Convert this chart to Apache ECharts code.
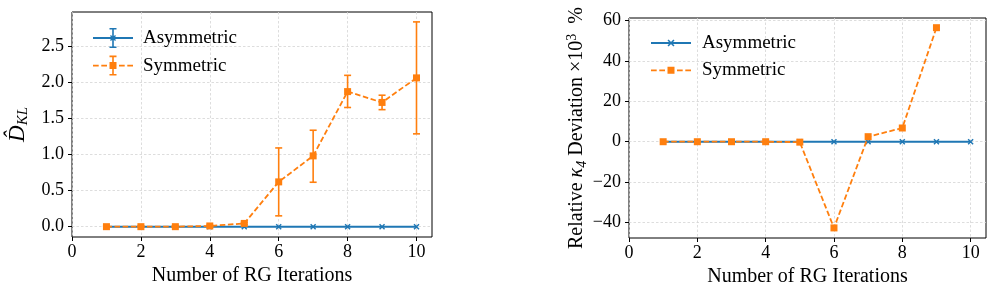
<!DOCTYPE html>
<html><head><meta charset="utf-8">
<script src="https://cdn.jsdelivr.net/npm/echarts@6/dist/echarts.min.js"></script>
<style>html,body{margin:0;padding:0;background:#fff}#c{width:997px;height:298px}</style>
</head><body><div id="c"></div>
<script>
// ---------- data ----------
const iterations = [1, 2, 3, 4, 5, 6, 7, 8, 9, 10];
const klAsymmetric = [0, 0, 0, 0, 0, 0, 0, 0, 0, 0];
const klSymmetric = [0.0, 0.0, 0.0, 0.01, 0.045, 0.62, 0.98, 1.87, 1.72, 2.06];
const klSymmetricLow = [0.0, 0.0, 0.0, 0.0, 0.03, 0.15, 0.615, 1.65, 1.62, 1.285];
const klSymmetricHigh = [0.01, 0.01, 0.01, 0.02, 0.06, 1.09, 1.335, 2.095, 1.82, 2.835];
const devAsymmetric = [0, 0, 0, 0, 0, 0, 0, 0, 0, 0];
const devSymmetric = [0, 0, 0, 0, -0.2, -42.7, 2.5, 6.8, 56.5, null];
const xTicks = [0, 2, 4, 6, 8, 10];
const klTicks = [0, 0.5, 1, 1.5, 2, 2.5];
const devTicks = [-40, -20, 0, 20, 40, 60];
const seriesNames = ['Asymmetric', 'Symmetric'];

// ---------- styling ----------
const SERIF = 'Liberation Serif';
const BLUE = '#1f77b4', ORANGE = '#ff7f0e';
const DASH = [5.5, 2.6];

function rect(x, y, w, h) { return `M${x} ${y} h${w} v${h} h${-w} Z `; }
function xMarkPath(x0, y0, s, a) {
  const p = (u, v) => (x0 + u * s / 10).toFixed(2) + ' ' + (y0 + v * s / 10).toFixed(2);
  return `M${p(a,0)} L${p(10,10-a)} L${p(10-a,10)} L${p(0,a)} Z M${p(10-a,0)} L${p(10,a)} L${p(a,10)} L${p(0,10-a)} Z `;
}
function dashes(y, h) {
  return rect(0, y, 5.7, h) + rect(8.3, y, 5.7, h) + rect(26, y, 5.7, h) + rect(34.3, y, 5.7, h);
}
const errIcon = rect(19.2, 0, 1.6, 20) + rect(16.5, 0, 7, 1.6) + rect(16.5, 18.4, 7, 1.6);
const leftAsymIcon = 'path://' + rect(0, 9.1, 40, 1.8) + errIcon + xMarkPath(17, 7, 6, 1.6);
const leftSymIcon = 'path://' + dashes(9.1, 1.8) + errIcon + rect(16.5, 6.5, 7, 7);
const rightAsymIcon = 'path://' + rect(0, 2.6, 40, 1.8) + xMarkPath(16.5, 0, 7, 1.6);
const rightSymIcon = 'path://' + dashes(2.6, 1.8) + rect(16.5, 0, 7, 7);
const xSymbol = 'path://' + xMarkPath(0, 0, 10, 1.7);

const fmtMinus = v => (v < 0 ? '\u2212' + (-v) : String(v));

function xAxisCfg(gridIndex) {
  return {
    type: 'value', gridIndex, min: 0, max: 10.45,
    name: 'Number of RG Iterations', nameLocation: 'middle', nameGap: 24,
    nameTextStyle: { fontFamily: SERIF, fontSize: 20, color: '#000' },
    axisLine: { show: false, onZero: false },
    axisTick: { show: true, inside: false, length: 4, customValues: xTicks, lineStyle: { color: '#000', width: 1 } },
    axisLabel: { customValues: xTicks, fontFamily: SERIF, fontSize: 18, color: '#000', margin: 6, formatter: v => String(v) },
    splitLine: { show: true, lineStyle: { color: '#d4d4d4', width: 0.8, type: [2.5, 2] } }
  };
}
function yAxisCfg(gridIndex, min, max, ticks, fmt, name, rich, nameGap) {
  return {
    type: 'value', gridIndex, min, max, splitNumber: 5,
    name, nameLocation: 'middle', nameGap,
    nameTextStyle: { fontFamily: SERIF, fontSize: 20, color: '#000', rich },
    axisLine: { show: false, onZero: false },
    axisTick: { show: true, inside: false, length: 4, customValues: ticks, lineStyle: { color: '#000', width: 1 } },
    axisLabel: { customValues: ticks, fontFamily: SERIF, fontSize: 18, color: '#000', margin: 8, formatter: fmt },
    splitLine: { show: true, lineStyle: { color: '#d4d4d4', width: 0.8, type: [2.5, 2] } }
  };
}

const klErrData = iterations.map((x, i) => [x, klSymmetricLow[i], klSymmetricHigh[i]]);

const option = {
  animation: false,
  backgroundColor: '#fff',
  grid: [
    { left: 72, top: 12, width: 360, height: 225, show: true, borderColor: '#000', borderWidth: 1, backgroundColor: 'transparent' },
    { left: 629, top: 18, width: 357, height: 220, show: true, borderColor: '#000', borderWidth: 1, backgroundColor: 'transparent' }
  ],
  legend: [
    {
      orient: 'vertical', left: 88, top: 23, itemWidth: 40, itemHeight: 20, itemGap: 7.6,
      itemStyle: { borderWidth: 0 },
      textStyle: { fontFamily: SERIF, fontSize: 19, color: '#000', padding: [0, 0, 0, 5] },
      data: [{ name: seriesNames[0], icon: leftAsymIcon }, { name: seriesNames[1], icon: leftSymIcon }],
      selectedMode: false
    },
    {
      orient: 'vertical', left: 646, top: 28, itemWidth: 40, itemHeight: 7, itemGap: 7.3,
      itemStyle: { borderWidth: 0 },
      textStyle: { fontFamily: SERIF, fontSize: 19, color: '#000', lineHeight: 20, padding: [0, 0, 0, 6] },
      data: [{ name: seriesNames[0], icon: rightAsymIcon }, { name: seriesNames[1], icon: rightSymIcon }],
      selectedMode: false
    }
  ],
  xAxis: [xAxisCfg(0), xAxisCfg(1)],
  yAxis: [
    yAxisCfg(0, -0.143, 2.972, klTicks, v => v.toFixed(1), '{d|D\u0302}{s|KL}', {
      d: { fontFamily: SERIF, fontSize: 23, fontStyle: 'italic', lineHeight: 26 },
      s: { fontFamily: SERIF, fontSize: 15, fontStyle: 'italic', lineHeight: 16, verticalAlign: 'bottom' }
    }, 41),
    yAxisCfg(1, -47.7, 61.3, devTicks, fmtMinus, '{n|Relative }{k|\u03ba}{s|4}{n| Deviation \u00d710}{p|3}{n|  %}', {
      n: { fontFamily: SERIF, fontSize: 20, lineHeight: 24 },
      k: { fontFamily: SERIF, fontSize: 20, fontStyle: 'italic', lineHeight: 24 },
      s: { fontFamily: SERIF, fontSize: 14, fontStyle: 'italic', lineHeight: 14, verticalAlign: 'bottom' },
      p: { fontFamily: SERIF, fontSize: 14, lineHeight: 14, verticalAlign: 'top' }
    }, 35)
  ],
  series: [
    {
      name: seriesNames[0], type: 'line', xAxisIndex: 0, yAxisIndex: 0,
      data: iterations.map((x, i) => [x, klAsymmetric[i]]),
      symbol: xSymbol, symbolSize: 6, itemStyle: { color: BLUE, borderWidth: 0 },
      lineStyle: { color: BLUE, width: 2, type: 'solid' }, z: 2
    },
    {
      name: 'klSymErr', type: 'custom', xAxisIndex: 0, yAxisIndex: 0, z: 3,
      data: klErrData, encode: { x: 0, y: [1, 2] },
      renderItem: function (params, api) {
        const x = api.value(0), lo = api.value(1), hi = api.value(2);
        const a = api.coord([x, lo]), b = api.coord([x, hi]);
        const cap = 3.5;
        const st = { stroke: ORANGE, lineWidth: 1.6 };
        return { type: 'group', children: [
          { type: 'line', shape: { x1: a[0], y1: a[1], x2: b[0], y2: b[1] }, style: st },
          { type: 'line', shape: { x1: a[0] - cap, y1: a[1], x2: a[0] + cap, y2: a[1] }, style: st },
          { type: 'line', shape: { x1: b[0] - cap, y1: b[1], x2: b[0] + cap, y2: b[1] }, style: st }
        ] };
      }
    },
    {
      name: seriesNames[1], type: 'line', xAxisIndex: 0, yAxisIndex: 0,
      data: iterations.map((x, i) => [x, klSymmetric[i]]),
      symbol: 'rect', symbolSize: 7, itemStyle: { color: ORANGE, borderWidth: 0 },
      lineStyle: { color: ORANGE, width: 1.8, type: DASH }, z: 4
    },
    {
      name: seriesNames[0], type: 'line', xAxisIndex: 1, yAxisIndex: 1,
      data: iterations.map((x, i) => [x, devAsymmetric[i]]),
      symbol: xSymbol, symbolSize: 6, itemStyle: { color: BLUE, borderWidth: 0 },
      lineStyle: { color: BLUE, width: 2, type: 'solid' }, z: 2
    },
    {
      name: seriesNames[1], type: 'line', xAxisIndex: 1, yAxisIndex: 1,
      data: iterations.map((x, i) => [x, devSymmetric[i]]),
      symbol: 'rect', symbolSize: 7, itemStyle: { color: ORANGE, borderWidth: 0 },
      lineStyle: { color: ORANGE, width: 1.8, type: DASH }, z: 4
    }
  ]
};

const chart = echarts.init(document.getElementById('c'), null, { renderer: 'canvas' });
chart.setOption(option);
</script>
</body></html>
